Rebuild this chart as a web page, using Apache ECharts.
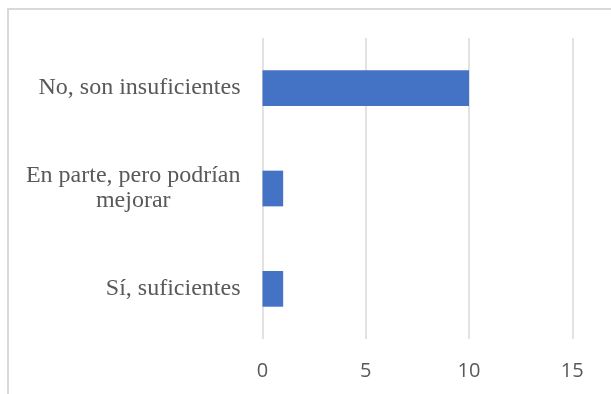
<!DOCTYPE html>
<html>
<head>
<meta charset="utf-8">
<script src="https://cdn.jsdelivr.net/npm/echarts@6/dist/echarts.min.js"></script>
<style>
  html, body { margin: 0; padding: 0; background: #ffffff; }
  #chart { width: 611px; height: 394px; }
</style>
</head>
<body>
<div id="chart"></div>
<script>
// Survey answers, listed bottom to top along the category axis
const categories = [
  'Sí, suficientes',
  'En parte, pero podrían\nmejorar',
  'No, son insuficientes'
];
const counts = [1, 1, 10];
const axisMin = 0;
const axisMax = 15;
const axisStep = 5;

const chart = echarts.init(document.getElementById('chart'), null, { renderer: 'canvas' });

chart.setOption({
  animation: false,
  backgroundColor: '#ffffff',
  graphic: [{
    type: 'rect',
    silent: true,
    shape: { x: 8, y: 9, width: 700, height: 500 },
    style: { fill: 'none', stroke: '#d9d9d9', lineWidth: 2 }
  }],
  grid: { left: 262.5, right: 38.7, top: 38, bottom: 55, containLabel: false },
  xAxis: {
    type: 'value',
    min: axisMin,
    max: axisMax,
    interval: axisStep,
    axisLine: { show: false },
    axisTick: { show: false },
    splitLine: { show: true, lineStyle: { color: '#d9d9d9', width: 1.5 } },
    axisLabel: {
      margin: 22,
      color: '#595959',
      fontFamily: '"Open Sans", "Liberation Sans", sans-serif',
      fontSize: 20
    }
  },
  yAxis: {
    type: 'category',
    data: categories,
    axisLine: { show: false },
    axisTick: { show: false },
    splitLine: { show: false },
    axisLabel: {
      margin: 22,
      formatter: function (v) {
        return v.split('\n').map(function (line) { return '{c|' + line + '}'; }).join('\n');
      },
      rich: {
        c: {
          align: 'center',
          color: '#595959',
          fontFamily: '"Liberation Serif", "Times New Roman", serif',
          fontSize: 24,
          lineHeight: 25
        }
      }
    }
  },
  series: [{
    type: 'bar',
    data: counts,
    barWidth: '35.6%',
    itemStyle: { color: '#4472c4' }
  }]
});
</script>
</body>
</html>
